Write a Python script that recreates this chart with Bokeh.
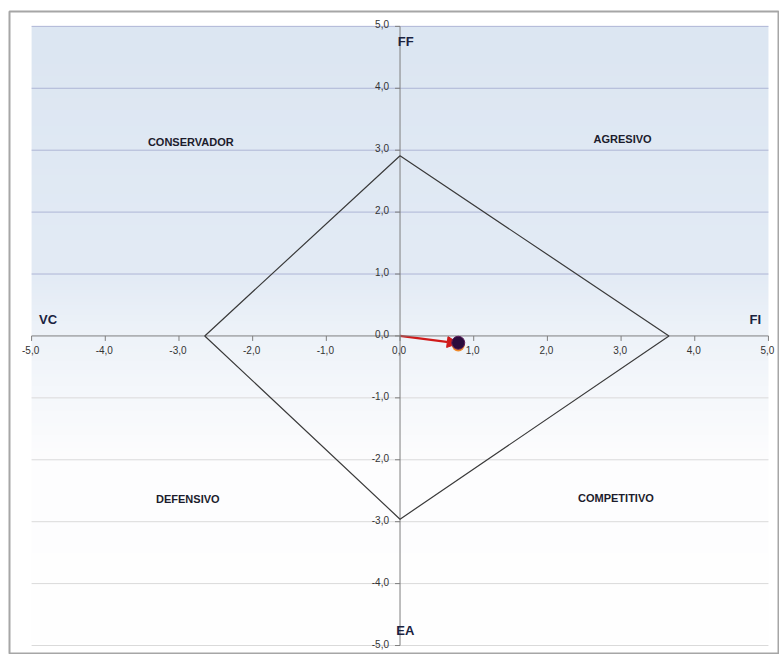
import numpy as np
from bokeh.plotting import figure
from bokeh.models import Range1d, Arrow, NormalHead, ColumnDataSource
from bokeh.core.properties import value
from bokeh.embed import file_html
from bokeh.resources import INLINE

# ---- data ----
tick_values = [-5, -4, -3, -2, -1, 0, 1, 2, 3, 4, 5]
tick_labels = ["-5,0", "-4,0", "-3,0", "-2,0", "-1,0", "0,0", "1,0", "2,0", "3,0", "4,0", "5,0"]

diamond_x = [0.0, 3.65, 0.0, -2.65, 0.0]
diamond_y = [2.91, 0.0, -2.96, 0.0, 2.91]

vector_x = [0.0, 0.79]
vector_y = [0.0, -0.12]

quadrant_names = ["CONSERVADOR", "AGRESIVO", "DEFENSIVO", "COMPETITIVO"]
quadrant_x = [-2.84, 3.02, -2.88, 2.93]
quadrant_y = [3.13, 3.18, -2.63, -2.62]

axis_names = ["FF", "FI", "VC", "EA"]
axis_name_x = [-0.03, 4.90, -4.90, -0.05]
axis_name_y = [4.75, 0.26, 0.27, -4.76]
axis_name_align = ["left", "right", "left", "left"]

# ---- figure ----
p = figure(width=779, height=654, output_backend="svg", toolbar_location=None,
           x_axis_type=None, y_axis_type=None,
           x_range=Range1d(-5.30, 5.15), y_range=Range1d(-5.145, 5.24),
           min_border_left=9, min_border_top=11, min_border_right=0, min_border_bottom=0)
p.background_fill_color = "white"
p.border_fill_color = "white"
p.outline_line_color = "#a6a6a6"
p.outline_line_width = 2
p.grid.visible = False

# background gradient of the plot area
stops_y = [-5.0, -2.0, 0.0, 1.0, 5.0]
stops_c = np.array([[255, 255, 255], [253, 253, 254], [238, 243, 249], [227, 235, 245], [220, 230, 242]], dtype=float)
N = 200
yy = np.linspace(-5, 5, N)
img = np.empty((N, 1), dtype=np.uint32)
view = img.view(dtype=np.uint8).reshape((N, 1, 4))
for ch in range(3):
    view[:, 0, ch] = np.interp(yy, stops_y, stops_c[:, ch]).astype(np.uint8)
view[:, 0, 3] = 255
bg = p.image_rgba(image=[img], x=-5, y=-5, dw=10, dh=10)
bg.level = "image"

# horizontal gridlines
grid_y = [v for v in tick_values if v != 0]
grid_colors = ["#aeb5d6" if v > 0 else "#dadada" for v in grid_y]
p.segment(x0=[tick_values[0]] * len(grid_y), x1=[tick_values[-1]] * len(grid_y),
          y0=grid_y, y1=grid_y, line_color=grid_colors, line_width=1)

# axes lines
p.segment(x0=[tick_values[0], 0], x1=[tick_values[-1], 0],
          y0=[0, tick_values[0]], y1=[0, tick_values[-1]],
          line_color="#7f7f7f", line_width=1)

# tick marks (5 px)
px_x = 73.7
px_y = 61.9
p.segment(x0=tick_values, x1=tick_values, y0=[0] * 11, y1=[-5 / px_y] * 11,
          line_color="#7f7f7f", line_width=1)
p.segment(x0=[0] * 11, x1=[-5 / px_x] * 11, y0=tick_values, y1=tick_values,
          line_color="#7f7f7f", line_width=1)

# tick labels
p.text(x=tick_values, y=[0] * 11, text=tick_labels, y_offset=10, x_offset=-1,
       text_align="center", text_baseline="top", text_font=value("Liberation Sans"),
       text_font_size="10px", text_color="#333333")
p.text(x=[0] * 11, y=tick_values, text=tick_labels, x_offset=-11, y_offset=-2,
       text_align="right", text_baseline="middle", text_font=value("Liberation Sans"),
       text_font_size="10px", text_color="#333333")

# diamond
p.line(diamond_x, diamond_y, line_color="#3a3a3a", line_width=1.2)

# vector arrow
arr = Arrow(x_start=vector_x[0], y_start=vector_y[0], x_end=vector_x[1], y_end=vector_y[1],
            line_color="#d01a1a", line_width=2.2,
            end=NormalHead(size=11, fill_color="#d01a1a", line_color="#d01a1a"))
arr.level = "underlay"
p.add_layout(arr)

# point
p.scatter([vector_x[1]], [vector_y[1] - 0.025], size=13, fill_color="#f08a2a", line_color=None)
p.scatter([vector_x[1]], [vector_y[1] + 0.01], size=13, fill_color="#2a0c3c",
          line_color="#5a1d5a", line_width=1)

# quadrant names
p.text(x=quadrant_x, y=quadrant_y, text=quadrant_names, text_align="center",
       text_baseline="middle", text_font=value("Liberation Sans"), text_font_style="bold",
       text_font_size="11px", text_color="#1c1c2c")

# axis names
src = ColumnDataSource(dict(x=axis_name_x, y=axis_name_y, t=axis_names, a=axis_name_align))
p.text(x="x", y="y", text="t", text_align="a", source=src, text_baseline="middle",
       text_font=value("Liberation Sans"), text_font_style="bold",
       text_font_size="13px", text_color="#1a2240")

open("out.html", "w").write(file_html(p, INLINE))
